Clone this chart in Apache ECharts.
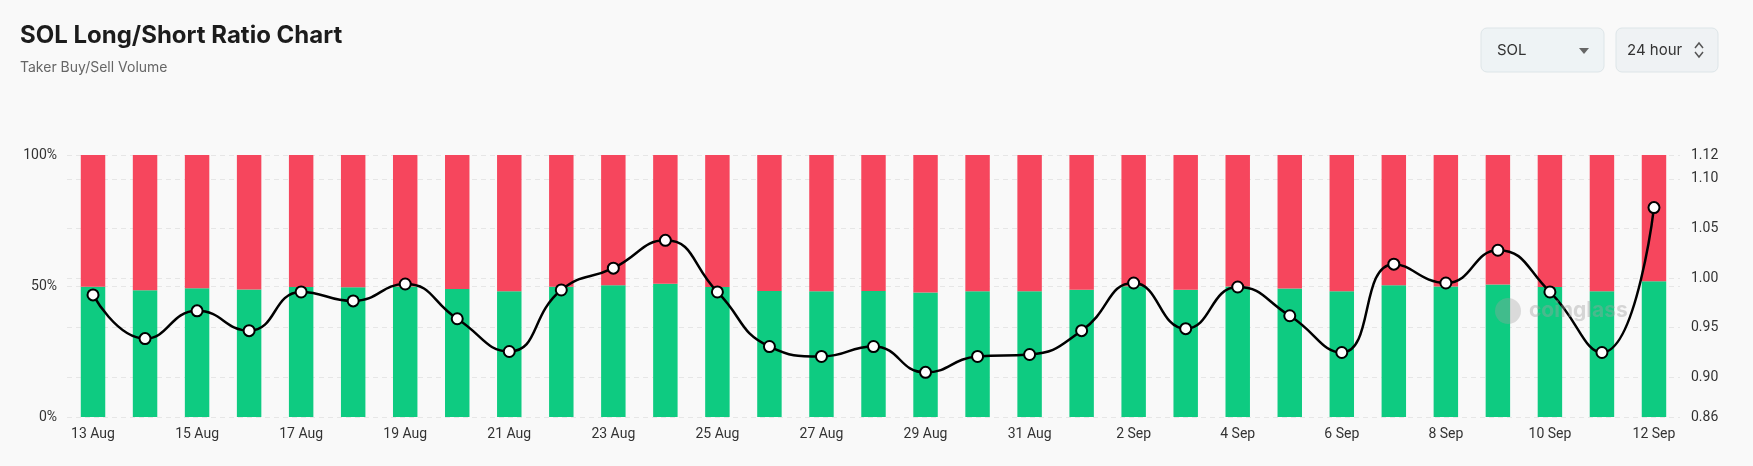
<!DOCTYPE html>
<html>
<head>
<meta charset="utf-8">
<script src="https://cdn.jsdelivr.net/npm/echarts@6/dist/echarts.min.js"></script>
<style>
html,body{margin:0;padding:0;background:#f9f9f9;}
#chart{width:1753px;height:466px;}
</style>
</head>
<body>
<div id="chart"></div>
<script>
const categories = ['13 Aug','14 Aug','15 Aug','16 Aug','17 Aug','18 Aug','19 Aug','20 Aug','21 Aug','22 Aug','23 Aug','24 Aug','25 Aug','26 Aug','27 Aug','28 Aug','29 Aug','30 Aug','31 Aug','1 Sep','2 Sep','3 Sep','4 Sep','5 Sep','6 Sep','7 Sep','8 Sep','9 Sep','10 Sep','11 Sep','12 Sep'];
const longPct = [49.7,48.4,49.1,48.7,49.6,49.5,49.8,48.9,48.0,49.7,50.3,50.9,49.6,48.1,48.0,48.1,47.5,48.0,48.0,48.6,49.9,48.6,49.8,49.0,48.0,50.3,49.8,50.6,49.6,48.0,51.8];
const shortPct = [50.3,51.6,50.9,51.3,50.4,50.5,50.2,51.1,52.0,50.3,49.7,49.1,50.4,51.9,52.0,51.9,52.5,52.0,52.0,51.4,50.1,51.4,50.2,51.0,52.0,49.7,50.2,49.4,50.4,52.0,48.2];
const ratio = [0.983,0.939,0.967,0.947,0.986,0.977,0.994,0.959,0.926,0.988,1.010,1.038,0.986,0.931,0.921,0.931,0.905,0.921,0.923,0.947,0.995,0.949,0.991,0.962,0.925,1.014,0.995,1.028,0.986,0.925,1.071];
const leftTicks = {min: 0, max: 100, interval: 50};
const rightRange = {min: 0.86, max: 1.124};

const chart = echarts.init(document.getElementById('chart'), null, {renderer: 'canvas'});
const axisFont = {color: '#333', fontSize: 14, fontFamily: 'Roboto, sans-serif'};
const gridLine = {show: true, lineStyle: {color: '#e6e6e6', type: [5, 4], width: 1}};

chart.setOption({
  backgroundColor: '#f9f9f9',
  animation: false,
  grid: {left: 67, right: 73, top: 155, bottom: 49},
  xAxis: {
    type: 'category',
    data: categories,
    boundaryGap: true,
    axisLine: {show: false},
    axisTick: {show: false},
    axisLabel: Object.assign({interval: 1, margin: 10}, axisFont),
    splitLine: {show: false}
  },
  yAxis: [
    {
      type: 'value',
      min: leftTicks.min, max: leftTicks.max, interval: leftTicks.interval,
      axisLine: {show: false}, axisTick: {show: false},
      axisLabel: Object.assign({formatter: '{value}%', margin: 10}, axisFont),
      splitLine: gridLine
    },
    {
      type: 'value',
      min: rightRange.min, max: rightRange.max,
      axisLine: {show: false}, axisTick: {show: false},
      axisLabel: Object.assign({formatter: v => v.toFixed(2), margin: 11}, axisFont),
      splitLine: gridLine
    }
  ],
  series: [
    {
      name: 'Long', type: 'bar', stack: 'r', yAxisIndex: 0,
      data: longPct, barWidth: '47%',
      itemStyle: {color: '#0ecb81'}
    },
    {
      name: 'Short', type: 'bar', stack: 'r', yAxisIndex: 0,
      data: shortPct, barWidth: '47%',
      itemStyle: {color: '#f6465d'}
    },
    {
      name: 'Ratio', type: 'line', yAxisIndex: 1,
      data: ratio, smooth: true, z: 5,
      symbol: 'circle', symbolSize: 11,
      lineStyle: {color: '#000', width: 2.5},
      itemStyle: {color: '#fff', borderColor: '#000', borderWidth: 2}
    }
  ],
  graphic: [
    {type: 'text', left: 20, top: 24, style: {text: 'SOL Long/Short Ratio Chart', font: 'bold 24px Inter, sans-serif', fill: '#1c1c1c'}},
    {type: 'text', left: 20, top: 61, style: {text: 'Taker Buy/Sell Volume', font: '14px Inter, sans-serif', fill: '#666'}},
    {type: 'rect', shape: {x: 1481, y: 28, width: 123, height: 44, r: 6}, style: {fill: '#eef3f5', stroke: '#dde5e8', lineWidth: 1}},
    {type: 'text', x: 1497, y: 50, style: {text: 'SOL', font: '15px Inter, sans-serif', fill: '#333', verticalAlign: 'middle'}},
    {type: 'polygon', shape: {points: [[1579, 48], [1589, 48], [1584, 54]]}, style: {fill: '#666'}},
    {type: 'rect', shape: {x: 1616, y: 28, width: 102, height: 44, r: 6}, style: {fill: '#eff2f4', stroke: '#dde5e8', lineWidth: 1}},
    {type: 'text', x: 1627, y: 50, style: {text: '24 hour', font: '15px Inter, sans-serif', fill: '#333', verticalAlign: 'middle'}},
    {type: 'polyline', shape: {points: [[1695, 48], [1699, 43], [1703, 48]]}, style: {stroke: '#555', lineWidth: 1.5, fill: null}},
    {type: 'polyline', shape: {points: [[1695, 52], [1699, 57], [1703, 52]]}, style: {stroke: '#555', lineWidth: 1.5, fill: null}},
    {type: 'circle', shape: {cx: 1508, cy: 311, r: 13}, style: {fill: 'rgba(160,160,160,0.35)'}, z: 10},
    {type: 'text', x: 1529, y: 311, z: 10, style: {text: 'coinglass', font: 'bold 21px Inter, sans-serif', fill: 'rgba(160,160,160,0.4)', verticalAlign: 'middle'}}
  ]
});
</script>
</body>
</html>
